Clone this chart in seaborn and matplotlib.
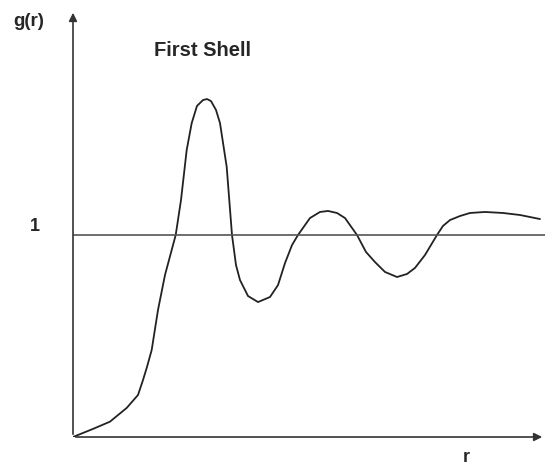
import numpy as np
import pandas as pd
import matplotlib
matplotlib.use("Agg")
import matplotlib.pyplot as plt
import seaborn as sns

# radial distribution function g(r)
r = [0.00, 0.20, 0.37, 0.537, 0.65, 0.70, 0.74, 0.787, 0.85, 0.92, 1.027,
     1.08, 1.137, 1.187, 1.24, 1.30, 1.34, 1.38, 1.43, 1.47, 1.537, 1.59,
     1.63, 1.67, 1.75, 1.85, 1.97, 2.05, 2.12, 2.19, 2.25, 2.37, 2.47,
     2.55, 2.64, 2.72, 2.84, 2.93, 3.02, 3.12, 3.24, 3.34, 3.42, 3.52,
     3.64, 3.70, 3.77, 3.87, 3.97, 4.12, 4.30, 4.47, 4.67]
g = [0.000, 0.040, 0.076, 0.144, 0.208, 0.282, 0.347, 0.431, 0.629, 0.802, 1.000,
     1.173, 1.421, 1.554, 1.639, 1.668, 1.673, 1.663, 1.619, 1.554, 1.337, 1.000,
     0.851, 0.777, 0.698, 0.668, 0.693, 0.752, 0.861, 0.950, 1.000, 1.084, 1.114,
     1.119, 1.109, 1.084, 1.000, 0.916, 0.866, 0.817, 0.792, 0.807, 0.837, 0.901,
     1.000, 1.045, 1.074, 1.094, 1.109, 1.114, 1.109, 1.099, 1.079]
df = pd.DataFrame({"r": r, "g": g})

sns.set_style("white")
plt.rcParams["font.family"] = ["Liberation Sans", "DejaVu Sans"]

fig = plt.figure(figsize=(5.45, 4.72), dpi=100)
ax = fig.add_axes([73 / 545, 35 / 472, 472 / 545, 427 / 472])
sns.lineplot(data=df, x="r", y="g", ax=ax, color="#222222", lw=1.3)
ax.axhline(1, color="#555555", lw=1.2)

ax.set_xlim(0, 4.72)
ax.set_ylim(0, 427 / 202)
ax.set_xticks([])
ax.set_yticks([])
ax.set_xlabel("")
ax.set_ylabel("")
for s in ax.spines.values():
    s.set_visible(False)

# axes with arrows
arrow = dict(arrowstyle="-|>", color="#333333", lw=1.2, mutation_scale=12)
ax.annotate("", xy=(0, 1.0), xytext=(0, 0), xycoords="axes fraction",
            arrowprops=arrow, annotation_clip=False)
ax.annotate("", xy=(1.0, 0), xytext=(0, 0), xycoords="axes fraction",
            arrowprops=arrow, annotation_clip=False)

fig.text(13 / 545, 1 - 21 / 472, "g(r)", fontsize=13.5, fontweight="bold",
         va="center", ha="left")
fig.text(35 / 545, 1 - 227 / 472, "1", fontsize=13, fontweight="bold",
         va="center", ha="center")
fig.text(466 / 545, 1 - 457 / 472, "r", fontsize=13, fontweight="bold",
         va="center", ha="center")
fig.text(154 / 545, 1 - 51 / 472, "First Shell", fontsize=14.5, fontweight="bold",
         va="center", ha="left")

fig.savefig("out.png", dpi=100)
